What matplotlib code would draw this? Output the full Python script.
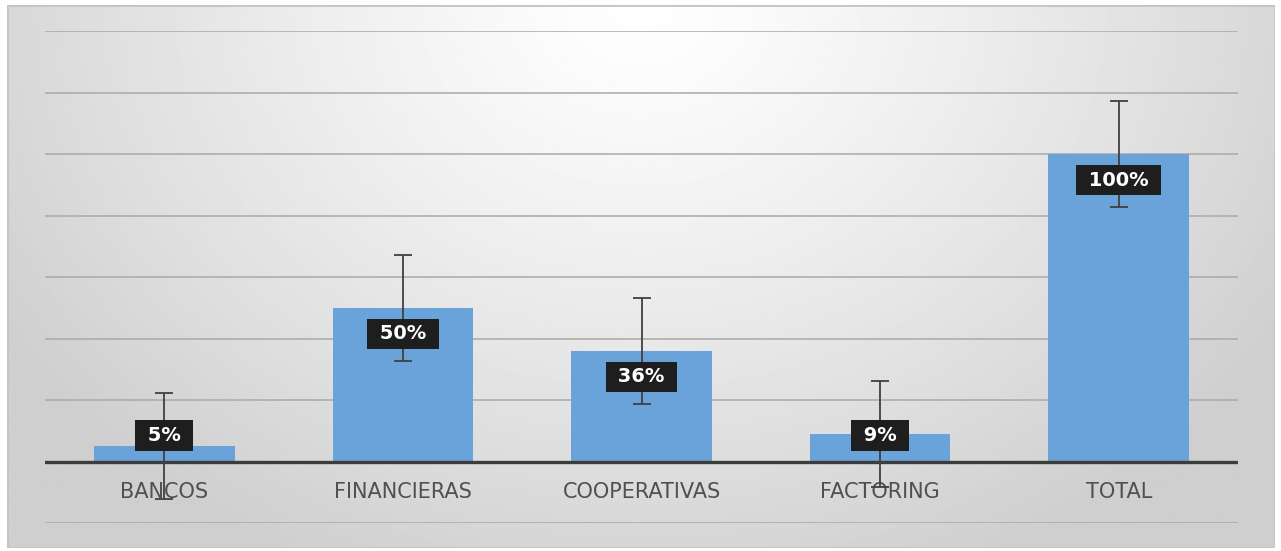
import numpy as np
import matplotlib
matplotlib.use("Agg")
import matplotlib.pyplot as plt
from matplotlib.patches import Rectangle

plt.rcParams.update({"font.family": "DejaVu Sans"})

categories = ["BANCOS", "FINANCIERAS", "COOPERATIVAS", "FACTORING", "TOTAL"]
values = [5, 50, 36, 9, 100]
errors = [17.3, 17.3, 17.3, 17.3, 17.3]
labels = ["5%", "50%", "36%", "9%", "100%"]

W, H = 1281, 551
fig = plt.figure(figsize=(W / 100, H / 100), dpi=100)
fig.patch.set_facecolor("white")

# ---- background: radial grey gradient inside a thin frame ----
bg = fig.add_axes([7 / W, 3 / H, 1268 / W, 543 / H])
yy, xx = np.mgrid[0:1:300j, 0:1:700j]
r = np.sqrt(((xx - 0.5) / 0.6) ** 2 + ((yy - 1.0) / 1.15) ** 2)
shade = 1.0 - 0.19 * np.clip(r, 0, 1.0) ** 1.2
bg.imshow(shade, cmap="gray", vmin=0, vmax=1, aspect="auto",
          origin="lower", extent=[0, 1, 0, 1], interpolation="bilinear")
bg.add_patch(Rectangle((0, 0), 1, 1, transform=bg.transAxes, fill=False,
                       ec="#c4c4c4", lw=2))
bg.set_axis_off()

# ---- plot area ----
ax = fig.add_axes([45 / W, 28 / H, 1193 / W, 492 / H])
ax.set_facecolor("none")
x = np.arange(len(categories))
ax.set_xlim(-0.5, len(categories) - 0.5)
ax.set_ylim(-20, 140)

for g in range(-20, 141, 20):
    if g != 0:
        ax.axhline(g, color="#a9a9a9", lw=1.1, zorder=1)

ax.bar(x, values, width=0.59, color="#6aa2da", zorder=2)
ax.axhline(0, color="#3c3c3c", lw=2.4, zorder=3)
ax.errorbar(x, values, yerr=errors, fmt="none", ecolor="#404040",
            elinewidth=1.3, capsize=6.5, capthick=1.3, zorder=4)

for xi, v, lab in zip(x, values, labels):
    ypos = max(v, 17) - 8.5
    ax.text(xi, ypos, " " + lab + " ", ha="center", va="center",
            fontsize=14, fontweight="bold", color="white", zorder=5,
            bbox=dict(boxstyle="square,pad=0.3", fc="#1e1e1e", ec="none"))

for xi, c in zip(x, categories):
    ax.text(xi, -10, c, ha="center", va="center", fontsize=15,
            color="#505050", zorder=3)

ax.set_xticks([])
ax.set_yticks([])
for s in ax.spines.values():
    s.set_visible(False)

fig.savefig("out.png", dpi=100, facecolor="white")
